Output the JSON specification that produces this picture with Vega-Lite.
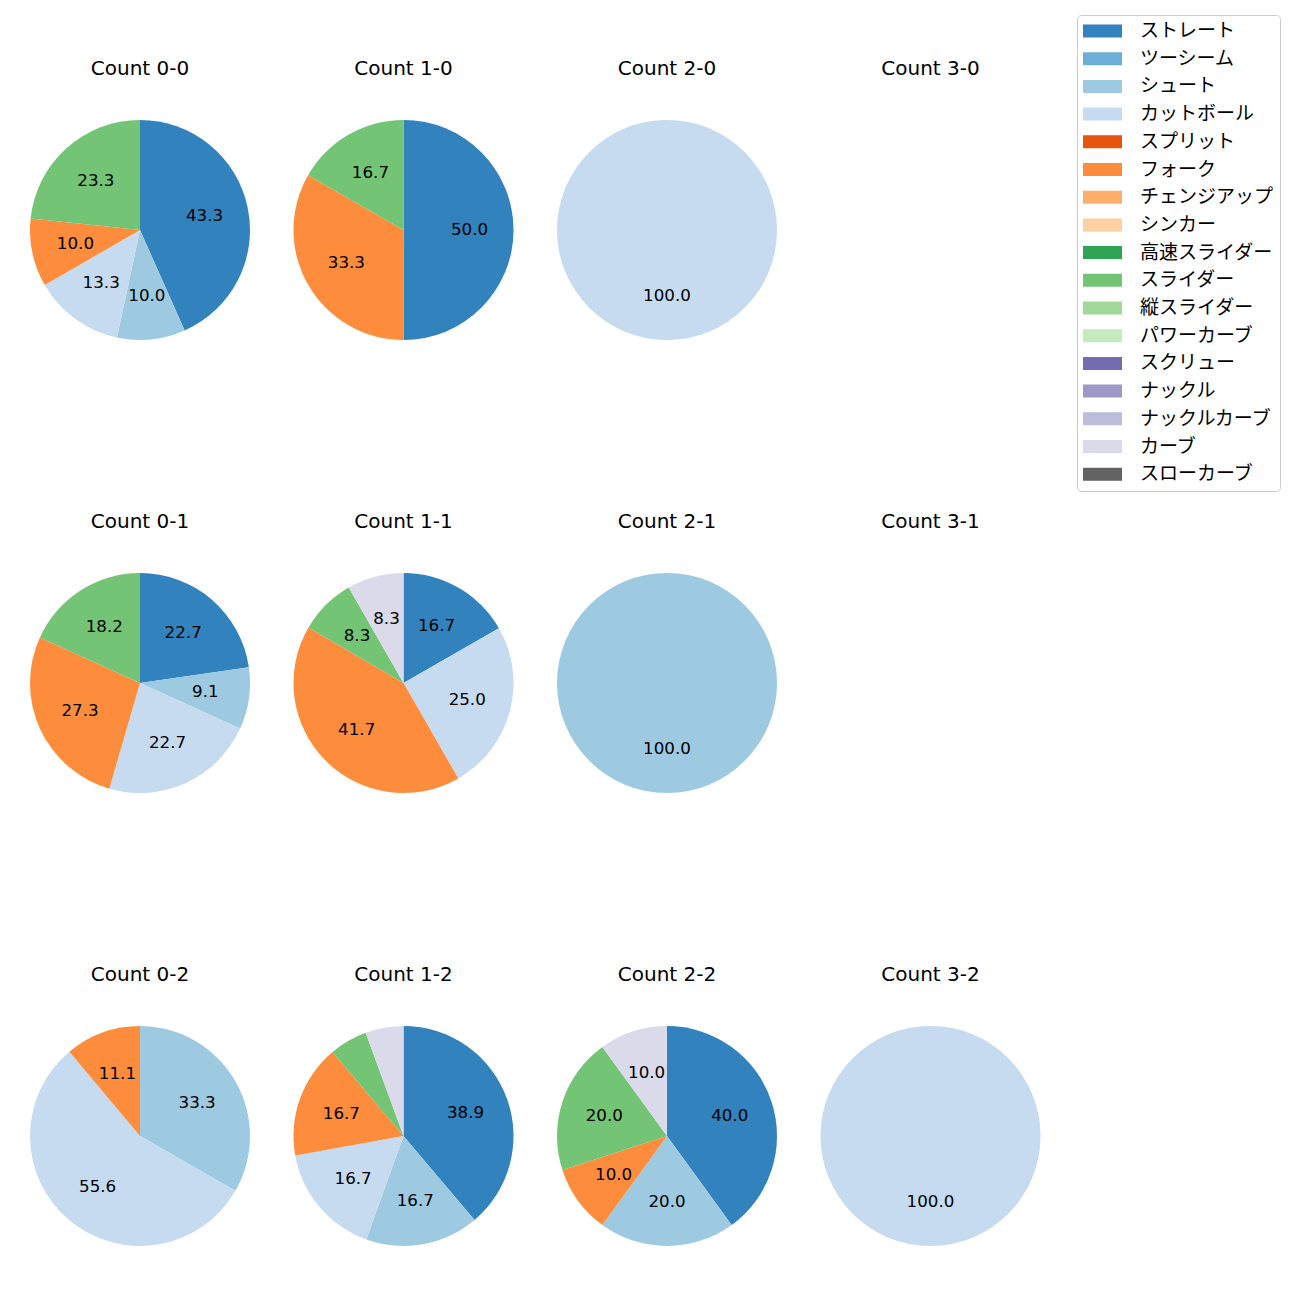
{
  "$schema": "https://vega.github.io/schema/vega-lite/v6.json",
  "padding": {"left": 20, "top": 14, "right": 5, "bottom": 5},
  "background": "white",
  "data": {"values": [
    {"c": "0-0", "pitch": "ストレート", "pct": 43.3, "k": 0},
    {"c": "0-0", "pitch": "シュート", "pct": 10.0, "k": 2},
    {"c": "0-0", "pitch": "カットボール", "pct": 13.3, "k": 3},
    {"c": "0-0", "pitch": "フォーク", "pct": 10.0, "k": 5},
    {"c": "0-0", "pitch": "スライダー", "pct": 23.3, "k": 9},
    {"c": "1-0", "pitch": "ストレート", "pct": 50.0, "k": 0},
    {"c": "1-0", "pitch": "フォーク", "pct": 33.3, "k": 5},
    {"c": "1-0", "pitch": "スライダー", "pct": 16.7, "k": 9},
    {"c": "2-0", "pitch": "カットボール", "pct": 100.0, "k": 3},
    {"c": "0-1", "pitch": "ストレート", "pct": 22.7, "k": 0},
    {"c": "0-1", "pitch": "シュート", "pct": 9.1, "k": 2},
    {"c": "0-1", "pitch": "カットボール", "pct": 22.7, "k": 3},
    {"c": "0-1", "pitch": "フォーク", "pct": 27.3, "k": 5},
    {"c": "0-1", "pitch": "スライダー", "pct": 18.2, "k": 9},
    {"c": "1-1", "pitch": "ストレート", "pct": 16.7, "k": 0},
    {"c": "1-1", "pitch": "カットボール", "pct": 25.0, "k": 3},
    {"c": "1-1", "pitch": "フォーク", "pct": 41.7, "k": 5},
    {"c": "1-1", "pitch": "スライダー", "pct": 8.3, "k": 9},
    {"c": "1-1", "pitch": "カーブ", "pct": 8.3, "k": 15},
    {"c": "2-1", "pitch": "シュート", "pct": 100.0, "k": 2},
    {"c": "0-2", "pitch": "シュート", "pct": 33.3, "k": 2},
    {"c": "0-2", "pitch": "カットボール", "pct": 55.6, "k": 3},
    {"c": "0-2", "pitch": "フォーク", "pct": 11.1, "k": 5},
    {"c": "1-2", "pitch": "ストレート", "pct": 38.9, "k": 0},
    {"c": "1-2", "pitch": "シュート", "pct": 16.7, "k": 2},
    {"c": "1-2", "pitch": "カットボール", "pct": 16.7, "k": 3},
    {"c": "1-2", "pitch": "フォーク", "pct": 16.7, "k": 5},
    {"c": "1-2", "pitch": "スライダー", "pct": 5.6, "k": 9},
    {"c": "1-2", "pitch": "カーブ", "pct": 5.6, "k": 15},
    {"c": "2-2", "pitch": "ストレート", "pct": 40.0, "k": 0},
    {"c": "2-2", "pitch": "シュート", "pct": 20.0, "k": 2},
    {"c": "2-2", "pitch": "フォーク", "pct": 10.0, "k": 5},
    {"c": "2-2", "pitch": "スライダー", "pct": 20.0, "k": 9},
    {"c": "2-2", "pitch": "カーブ", "pct": 10.0, "k": 15},
    {"c": "3-2", "pitch": "カットボール", "pct": 100.0, "k": 3}
  ]},
  "resolve": {"scale": {"color": "shared", "theta": "independent"}, "legend": {"color": "shared"}},
  "vconcat": [
    {"hconcat": [
      {"title": "Count 0-0", "width": 240, "height": 240, "transform": [{"filter": "datum.c === '0-0'"}],
       "layer": [
        {"mark": {"type": "arc", "outerRadius": 110}, "encoding": {"theta": {"field": "pct", "type": "quantitative", "stack": "normalize"}, "color": {"field": "pitch", "type": "nominal", "scale": {"domain": ["ストレート","ツーシーム","シュート","カットボール","スプリット","フォーク","チェンジアップ","シンカー","高速スライダー","スライダー","縦スライダー","パワーカーブ","スクリュー","ナックル","ナックルカーブ","カーブ","スローカーブ"], "range": ["#3182bd","#6baed6","#9ecae1","#c6dbef","#e6550d","#fd8d3c","#fdae6b","#fdd0a2","#31a354","#74c476","#a1d99b","#c7e9c0","#756bb1","#9e9ac8","#bcbddc","#dadaeb","#636363"]}}, "order": {"field": "k", "type": "quantitative"}}},
        {"mark": {"type": "text", "radius": 66, "fontSize": 16.7, "font": "DejaVu Sans", "color": "#000"}, "encoding": {"theta": {"field": "pct", "type": "quantitative", "stack": "normalize"}, "text": {"field": "pct", "type": "quantitative", "format": ".1f"}, "opacity": {"condition": {"test": "datum.pct < 6", "value": 0}, "value": 1}, "order": {"field": "k", "type": "quantitative"}}}
      ]},
      {"title": "Count 1-0", "width": 240, "height": 240, "transform": [{"filter": "datum.c === '1-0'"}],
       "layer": [
        {"mark": {"type": "arc", "outerRadius": 110}, "encoding": {"theta": {"field": "pct", "type": "quantitative", "stack": "normalize"}, "color": {"field": "pitch", "type": "nominal", "scale": {"domain": ["ストレート","ツーシーム","シュート","カットボール","スプリット","フォーク","チェンジアップ","シンカー","高速スライダー","スライダー","縦スライダー","パワーカーブ","スクリュー","ナックル","ナックルカーブ","カーブ","スローカーブ"], "range": ["#3182bd","#6baed6","#9ecae1","#c6dbef","#e6550d","#fd8d3c","#fdae6b","#fdd0a2","#31a354","#74c476","#a1d99b","#c7e9c0","#756bb1","#9e9ac8","#bcbddc","#dadaeb","#636363"]}}, "order": {"field": "k", "type": "quantitative"}}},
        {"mark": {"type": "text", "radius": 66, "fontSize": 16.7, "font": "DejaVu Sans", "color": "#000"}, "encoding": {"theta": {"field": "pct", "type": "quantitative", "stack": "normalize"}, "text": {"field": "pct", "type": "quantitative", "format": ".1f"}, "opacity": {"condition": {"test": "datum.pct < 6", "value": 0}, "value": 1}, "order": {"field": "k", "type": "quantitative"}}}
      ]},
      {"title": "Count 2-0", "width": 240, "height": 240, "transform": [{"filter": "datum.c === '2-0'"}],
       "layer": [
        {"mark": {"type": "arc", "outerRadius": 110}, "encoding": {"theta": {"field": "pct", "type": "quantitative", "stack": "normalize"}, "color": {"field": "pitch", "type": "nominal", "scale": {"domain": ["ストレート","ツーシーム","シュート","カットボール","スプリット","フォーク","チェンジアップ","シンカー","高速スライダー","スライダー","縦スライダー","パワーカーブ","スクリュー","ナックル","ナックルカーブ","カーブ","スローカーブ"], "range": ["#3182bd","#6baed6","#9ecae1","#c6dbef","#e6550d","#fd8d3c","#fdae6b","#fdd0a2","#31a354","#74c476","#a1d99b","#c7e9c0","#756bb1","#9e9ac8","#bcbddc","#dadaeb","#636363"]}}, "order": {"field": "k", "type": "quantitative"}}},
        {"mark": {"type": "text", "radius": 66, "fontSize": 16.7, "font": "DejaVu Sans", "color": "#000"}, "encoding": {"theta": {"field": "pct", "type": "quantitative", "stack": "normalize"}, "text": {"field": "pct", "type": "quantitative", "format": ".1f"}, "opacity": {"condition": {"test": "datum.pct < 6", "value": 0}, "value": 1}, "order": {"field": "k", "type": "quantitative"}}}
      ]},
      {"title": "Count 3-0", "width": 240, "height": 240, "transform": [{"filter": "datum.c === '3-0'"}],
       "layer": [
        {"mark": {"type": "arc", "outerRadius": 110}, "encoding": {"theta": {"field": "pct", "type": "quantitative", "stack": "normalize"}, "color": {"field": "pitch", "type": "nominal", "scale": {"domain": ["ストレート","ツーシーム","シュート","カットボール","スプリット","フォーク","チェンジアップ","シンカー","高速スライダー","スライダー","縦スライダー","パワーカーブ","スクリュー","ナックル","ナックルカーブ","カーブ","スローカーブ"], "range": ["#3182bd","#6baed6","#9ecae1","#c6dbef","#e6550d","#fd8d3c","#fdae6b","#fdd0a2","#31a354","#74c476","#a1d99b","#c7e9c0","#756bb1","#9e9ac8","#bcbddc","#dadaeb","#636363"]}}, "order": {"field": "k", "type": "quantitative"}}},
        {"mark": {"type": "text", "radius": 66, "fontSize": 16.7, "font": "DejaVu Sans", "color": "#000"}, "encoding": {"theta": {"field": "pct", "type": "quantitative", "stack": "normalize"}, "text": {"field": "pct", "type": "quantitative", "format": ".1f"}, "opacity": {"condition": {"test": "datum.pct < 6", "value": 0}, "value": 1}, "order": {"field": "k", "type": "quantitative"}}}
      ]}
    ]},
    {"hconcat": [
      {"title": "Count 0-1", "width": 240, "height": 240, "transform": [{"filter": "datum.c === '0-1'"}],
       "layer": [
        {"mark": {"type": "arc", "outerRadius": 110}, "encoding": {"theta": {"field": "pct", "type": "quantitative", "stack": "normalize"}, "color": {"field": "pitch", "type": "nominal", "scale": {"domain": ["ストレート","ツーシーム","シュート","カットボール","スプリット","フォーク","チェンジアップ","シンカー","高速スライダー","スライダー","縦スライダー","パワーカーブ","スクリュー","ナックル","ナックルカーブ","カーブ","スローカーブ"], "range": ["#3182bd","#6baed6","#9ecae1","#c6dbef","#e6550d","#fd8d3c","#fdae6b","#fdd0a2","#31a354","#74c476","#a1d99b","#c7e9c0","#756bb1","#9e9ac8","#bcbddc","#dadaeb","#636363"]}}, "order": {"field": "k", "type": "quantitative"}}},
        {"mark": {"type": "text", "radius": 66, "fontSize": 16.7, "font": "DejaVu Sans", "color": "#000"}, "encoding": {"theta": {"field": "pct", "type": "quantitative", "stack": "normalize"}, "text": {"field": "pct", "type": "quantitative", "format": ".1f"}, "opacity": {"condition": {"test": "datum.pct < 6", "value": 0}, "value": 1}, "order": {"field": "k", "type": "quantitative"}}}
      ]},
      {"title": "Count 1-1", "width": 240, "height": 240, "transform": [{"filter": "datum.c === '1-1'"}],
       "layer": [
        {"mark": {"type": "arc", "outerRadius": 110}, "encoding": {"theta": {"field": "pct", "type": "quantitative", "stack": "normalize"}, "color": {"field": "pitch", "type": "nominal", "scale": {"domain": ["ストレート","ツーシーム","シュート","カットボール","スプリット","フォーク","チェンジアップ","シンカー","高速スライダー","スライダー","縦スライダー","パワーカーブ","スクリュー","ナックル","ナックルカーブ","カーブ","スローカーブ"], "range": ["#3182bd","#6baed6","#9ecae1","#c6dbef","#e6550d","#fd8d3c","#fdae6b","#fdd0a2","#31a354","#74c476","#a1d99b","#c7e9c0","#756bb1","#9e9ac8","#bcbddc","#dadaeb","#636363"]}}, "order": {"field": "k", "type": "quantitative"}}},
        {"mark": {"type": "text", "radius": 66, "fontSize": 16.7, "font": "DejaVu Sans", "color": "#000"}, "encoding": {"theta": {"field": "pct", "type": "quantitative", "stack": "normalize"}, "text": {"field": "pct", "type": "quantitative", "format": ".1f"}, "opacity": {"condition": {"test": "datum.pct < 6", "value": 0}, "value": 1}, "order": {"field": "k", "type": "quantitative"}}}
      ]},
      {"title": "Count 2-1", "width": 240, "height": 240, "transform": [{"filter": "datum.c === '2-1'"}],
       "layer": [
        {"mark": {"type": "arc", "outerRadius": 110}, "encoding": {"theta": {"field": "pct", "type": "quantitative", "stack": "normalize"}, "color": {"field": "pitch", "type": "nominal", "scale": {"domain": ["ストレート","ツーシーム","シュート","カットボール","スプリット","フォーク","チェンジアップ","シンカー","高速スライダー","スライダー","縦スライダー","パワーカーブ","スクリュー","ナックル","ナックルカーブ","カーブ","スローカーブ"], "range": ["#3182bd","#6baed6","#9ecae1","#c6dbef","#e6550d","#fd8d3c","#fdae6b","#fdd0a2","#31a354","#74c476","#a1d99b","#c7e9c0","#756bb1","#9e9ac8","#bcbddc","#dadaeb","#636363"]}}, "order": {"field": "k", "type": "quantitative"}}},
        {"mark": {"type": "text", "radius": 66, "fontSize": 16.7, "font": "DejaVu Sans", "color": "#000"}, "encoding": {"theta": {"field": "pct", "type": "quantitative", "stack": "normalize"}, "text": {"field": "pct", "type": "quantitative", "format": ".1f"}, "opacity": {"condition": {"test": "datum.pct < 6", "value": 0}, "value": 1}, "order": {"field": "k", "type": "quantitative"}}}
      ]},
      {"title": "Count 3-1", "width": 240, "height": 240, "transform": [{"filter": "datum.c === '3-1'"}],
       "layer": [
        {"mark": {"type": "arc", "outerRadius": 110}, "encoding": {"theta": {"field": "pct", "type": "quantitative", "stack": "normalize"}, "color": {"field": "pitch", "type": "nominal", "scale": {"domain": ["ストレート","ツーシーム","シュート","カットボール","スプリット","フォーク","チェンジアップ","シンカー","高速スライダー","スライダー","縦スライダー","パワーカーブ","スクリュー","ナックル","ナックルカーブ","カーブ","スローカーブ"], "range": ["#3182bd","#6baed6","#9ecae1","#c6dbef","#e6550d","#fd8d3c","#fdae6b","#fdd0a2","#31a354","#74c476","#a1d99b","#c7e9c0","#756bb1","#9e9ac8","#bcbddc","#dadaeb","#636363"]}}, "order": {"field": "k", "type": "quantitative"}}},
        {"mark": {"type": "text", "radius": 66, "fontSize": 16.7, "font": "DejaVu Sans", "color": "#000"}, "encoding": {"theta": {"field": "pct", "type": "quantitative", "stack": "normalize"}, "text": {"field": "pct", "type": "quantitative", "format": ".1f"}, "opacity": {"condition": {"test": "datum.pct < 6", "value": 0}, "value": 1}, "order": {"field": "k", "type": "quantitative"}}}
      ]}
    ]},
    {"hconcat": [
      {"title": "Count 0-2", "width": 240, "height": 240, "transform": [{"filter": "datum.c === '0-2'"}],
       "layer": [
        {"mark": {"type": "arc", "outerRadius": 110}, "encoding": {"theta": {"field": "pct", "type": "quantitative", "stack": "normalize"}, "color": {"field": "pitch", "type": "nominal", "scale": {"domain": ["ストレート","ツーシーム","シュート","カットボール","スプリット","フォーク","チェンジアップ","シンカー","高速スライダー","スライダー","縦スライダー","パワーカーブ","スクリュー","ナックル","ナックルカーブ","カーブ","スローカーブ"], "range": ["#3182bd","#6baed6","#9ecae1","#c6dbef","#e6550d","#fd8d3c","#fdae6b","#fdd0a2","#31a354","#74c476","#a1d99b","#c7e9c0","#756bb1","#9e9ac8","#bcbddc","#dadaeb","#636363"]}}, "order": {"field": "k", "type": "quantitative"}}},
        {"mark": {"type": "text", "radius": 66, "fontSize": 16.7, "font": "DejaVu Sans", "color": "#000"}, "encoding": {"theta": {"field": "pct", "type": "quantitative", "stack": "normalize"}, "text": {"field": "pct", "type": "quantitative", "format": ".1f"}, "opacity": {"condition": {"test": "datum.pct < 6", "value": 0}, "value": 1}, "order": {"field": "k", "type": "quantitative"}}}
      ]},
      {"title": "Count 1-2", "width": 240, "height": 240, "transform": [{"filter": "datum.c === '1-2'"}],
       "layer": [
        {"mark": {"type": "arc", "outerRadius": 110}, "encoding": {"theta": {"field": "pct", "type": "quantitative", "stack": "normalize"}, "color": {"field": "pitch", "type": "nominal", "scale": {"domain": ["ストレート","ツーシーム","シュート","カットボール","スプリット","フォーク","チェンジアップ","シンカー","高速スライダー","スライダー","縦スライダー","パワーカーブ","スクリュー","ナックル","ナックルカーブ","カーブ","スローカーブ"], "range": ["#3182bd","#6baed6","#9ecae1","#c6dbef","#e6550d","#fd8d3c","#fdae6b","#fdd0a2","#31a354","#74c476","#a1d99b","#c7e9c0","#756bb1","#9e9ac8","#bcbddc","#dadaeb","#636363"]}}, "order": {"field": "k", "type": "quantitative"}}},
        {"mark": {"type": "text", "radius": 66, "fontSize": 16.7, "font": "DejaVu Sans", "color": "#000"}, "encoding": {"theta": {"field": "pct", "type": "quantitative", "stack": "normalize"}, "text": {"field": "pct", "type": "quantitative", "format": ".1f"}, "opacity": {"condition": {"test": "datum.pct < 6", "value": 0}, "value": 1}, "order": {"field": "k", "type": "quantitative"}}}
      ]},
      {"title": "Count 2-2", "width": 240, "height": 240, "transform": [{"filter": "datum.c === '2-2'"}],
       "layer": [
        {"mark": {"type": "arc", "outerRadius": 110}, "encoding": {"theta": {"field": "pct", "type": "quantitative", "stack": "normalize"}, "color": {"field": "pitch", "type": "nominal", "scale": {"domain": ["ストレート","ツーシーム","シュート","カットボール","スプリット","フォーク","チェンジアップ","シンカー","高速スライダー","スライダー","縦スライダー","パワーカーブ","スクリュー","ナックル","ナックルカーブ","カーブ","スローカーブ"], "range": ["#3182bd","#6baed6","#9ecae1","#c6dbef","#e6550d","#fd8d3c","#fdae6b","#fdd0a2","#31a354","#74c476","#a1d99b","#c7e9c0","#756bb1","#9e9ac8","#bcbddc","#dadaeb","#636363"]}}, "order": {"field": "k", "type": "quantitative"}}},
        {"mark": {"type": "text", "radius": 66, "fontSize": 16.7, "font": "DejaVu Sans", "color": "#000"}, "encoding": {"theta": {"field": "pct", "type": "quantitative", "stack": "normalize"}, "text": {"field": "pct", "type": "quantitative", "format": ".1f"}, "opacity": {"condition": {"test": "datum.pct < 6", "value": 0}, "value": 1}, "order": {"field": "k", "type": "quantitative"}}}
      ]},
      {"title": "Count 3-2", "width": 240, "height": 240, "transform": [{"filter": "datum.c === '3-2'"}],
       "layer": [
        {"mark": {"type": "arc", "outerRadius": 110}, "encoding": {"theta": {"field": "pct", "type": "quantitative", "stack": "normalize"}, "color": {"field": "pitch", "type": "nominal", "scale": {"domain": ["ストレート","ツーシーム","シュート","カットボール","スプリット","フォーク","チェンジアップ","シンカー","高速スライダー","スライダー","縦スライダー","パワーカーブ","スクリュー","ナックル","ナックルカーブ","カーブ","スローカーブ"], "range": ["#3182bd","#6baed6","#9ecae1","#c6dbef","#e6550d","#fd8d3c","#fdae6b","#fdd0a2","#31a354","#74c476","#a1d99b","#c7e9c0","#756bb1","#9e9ac8","#bcbddc","#dadaeb","#636363"]}}, "order": {"field": "k", "type": "quantitative"}}},
        {"mark": {"type": "text", "radius": 66, "fontSize": 16.7, "font": "DejaVu Sans", "color": "#000"}, "encoding": {"theta": {"field": "pct", "type": "quantitative", "stack": "normalize"}, "text": {"field": "pct", "type": "quantitative", "format": ".1f"}, "opacity": {"condition": {"test": "datum.pct < 6", "value": 0}, "value": 1}, "order": {"field": "k", "type": "quantitative"}}}
      ]}
    ]}
  ],
  "spacing": 162,
  "config": {
    "view": {"stroke": null},
    "concat": {"spacing": 23.5},
    "title": {"fontSize": 20, "font": "DejaVu Sans", "fontWeight": "normal", "color": "#000", "baseline": "alphabetic", "offset": 31, "anchor": "middle"},
    "legend": {
      "orient": "none", "legendX": 1057, "legendY": -95, "title": null,
      "symbolType": "M-1,-0.333H1V0.333H-1Z", "symbolSize": 1521, "symbolStrokeWidth": 0,
      "clipHeight": 20, "rowPadding": 7.7, "labelOffset": 18,
      "labelFont": "Noto Sans CJK JP", "labelFontSize": 19, "labelColor": "#000", "labelLimit": 300,
      "strokeColor": "#cccccc", "cornerRadius": 4, "padding": 6, "fillColor": "white"
    }
  }
}
